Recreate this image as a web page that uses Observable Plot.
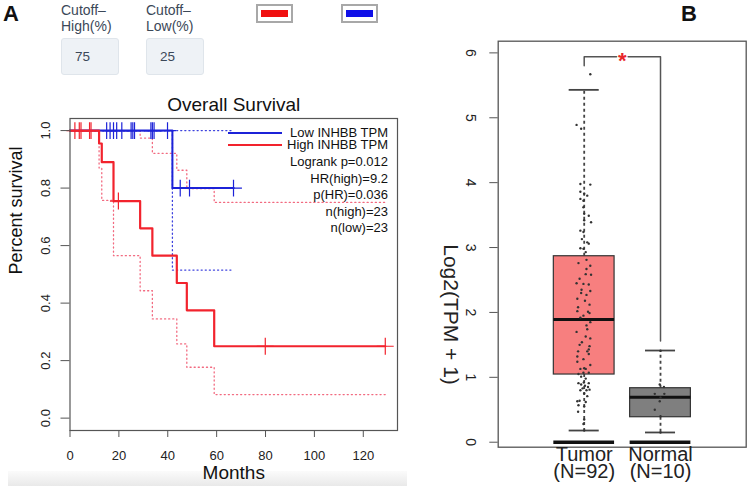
<!DOCTYPE html>
<html><head><meta charset="utf-8">
<script src="https://cdn.jsdelivr.net/npm/d3@7"></script>
<script src="https://cdn.jsdelivr.net/npm/@observablehq/plot@0.6"></script>
<style>
body{margin:0;background:#fff;}
#root{position:relative;width:750px;height:497px;overflow:hidden;font-family:"Liberation Sans",Arial,sans-serif;background:#fff;}
.abs{position:absolute;}
.panel{position:absolute;font-size:22px;font-weight:bold;color:#111;}
.ctl{position:absolute;font-size:14px;line-height:16px;color:#3b4858;}
.box{position:absolute;background:#eef2f6;border:1px solid #dfe5eb;border-radius:3px;font-size:13.5px;color:#3b4858;box-sizing:border-box;padding-left:13px;line-height:35px;}
.sw{position:absolute;border:2px solid #a8a8a8;background:#fff;box-sizing:border-box;}
.sw div{position:absolute;left:3px;top:4px;right:3px;bottom:4px;}
.leg{position:absolute;font-size:13px;color:#111;white-space:nowrap;text-align:right;}
.legline{position:absolute;height:2px;}
#plotA,#plotB{position:absolute;top:0;}
#plotA{left:0;} #plotB{left:430px;}
</style></head><body><div id="root">
<div class="abs" style="left:8px;top:471px;width:399px;height:15px;background:linear-gradient(#fbfbfb,#e9e9e9);"></div>
<div id="plotA"></div><div id="plotB"></div>
<div class="panel" style="left:3px;top:1px;">A</div>
<div class="panel" style="left:681px;top:1px;">B</div>
<div class="ctl" style="left:61px;top:2px;">Cutoff–<br>High(%)</div>
<div class="ctl" style="left:146px;top:2px;">Cutoff–<br>Low(%)</div>
<div class="box" id="boxHigh" style="left:61px;top:38px;width:58px;height:37px;"></div>
<div class="box" id="boxLow" style="left:146px;top:38px;width:58px;height:37px;"></div>
<div class="sw" style="left:256px;top:4px;width:37px;height:19px;"><div id="swHigh"></div></div>
<div class="sw" style="left:341px;top:4px;width:37px;height:19px;"><div id="swLow"></div></div>
<div class="legline" id="llLow" style="left:228px;top:132px;width:54px;"></div>
<div class="legline" id="llHigh" style="left:228px;top:144px;width:54px;"></div>
<div class="leg" id="legText0" style="right:362px;top:127px;line-height:12px;"></div>
<div class="leg" id="legText1" style="right:362px;top:139px;line-height:12px;"></div>
<div class="leg" id="statText" style="right:362px;top:154px;line-height:16.5px;"></div>
</div>
<script>
// ---------- Panel A data (Kaplan-Meier, months vs survival) ----------
const cutoffHigh = 75;
const cutoffLow = 25;
const colorHigh = "#f2232d";
const colorLow = "#1c22d8";
const seriesNames = ["Low INHBB TPM", "High INHBB TPM"];
const statLines = ["Logrank p=0.012", "HR(high)=9.2", "p(HR)=0.036", "n(high)=23", "n(low)=23"];
const monthTicks = [0, 20, 40, 60, 80, 100, 120];
const survTicks = [0, 0.2, 0.4, 0.6, 0.8, 1.0];

const lowTime = [0, 41.9, 67];
const lowSurv = [1, 0.8, 0.8];
const highTime = [0, 11.9, 13, 17.8, 28.7, 33.7, 43.7, 47.8, 59, 129];
const highSurv = [1, 0.955, 0.89, 0.755, 0.66, 0.565, 0.47, 0.375, 0.25, 0.25];

const lowUpperTime = [0, 66.3];
const lowUpperSurv = [1, 1];
const lowLowerTime = [0, 41.9, 66.3];
const lowLowerSurv = [1, 0.515, 0.515];
const highUpperTime = [0, 28.7, 33.7, 43.7, 47.8, 59, 129];
const highUpperSurv = [1, 0.974, 0.921, 0.862, 0.798, 0.75, 0.75];
const highLowerTime = [0, 11.9, 13, 17.8, 28.7, 33.7, 43.7, 47.8, 59, 129];
const highLowerSurv = [1, 0.87, 0.757, 0.565, 0.443, 0.345, 0.258, 0.177, 0.082, 0.082];

const lowCensorTime = [15, 16.4, 17.8, 19.1, 21.2, 25, 25.7, 26.4, 33.1, 33.7, 34.4, 39.9, 45.1, 48.9, 66.9];
const lowCensorSurv = [1, 1, 1, 1, 1, 1, 1, 1, 1, 1, 1, 1, 0.8, 0.8, 0.8];
const highCensorTime = [2.0, 3.8, 4.5, 8.0, 8.6, 19.8, 79.9, 129];
const highCensorSurv = [1, 1, 1, 1, 1, 0.755, 0.25, 0.25];

// ---------- Panel B data (boxplot Log2(TPM+1)) ----------
const groups = ["Tumor", "Normal"];
const groupN = ["(N=92)", "(N=10)"];
const groupPos = [1, 2];
const groupFill = ["#f77f7f", "#7f7f7f"];
const q1 = [1.043, 0.385];
const median = [1.89, 0.693];
const q3 = [2.866, 0.832];
const whiskerLow = [0.18, 0.15];
const whiskerHigh = [5.43, 1.413];
const yTicksB = [0, 1, 2, 3, 4, 5, 6];
const sigLabel = "*";
const sigY = 5.94;
const bracketEnds = [5.8, 1.56];

const tumorValues = [5.67, 4.89, 4.83, 3.98, 3.97, 3.86, 3.83, 3.80, 3.75, 3.72, 3.62, 3.52, 3.49, 3.42, 3.39, 3.26, 3.24, 3.13, 3.08, 3.06, 2.99, 2.98, 2.93,
  2.81, 2.76, 2.72, 2.67, 2.59, 2.58, 2.52, 2.45, 2.44, 2.43, 2.35, 2.33, 2.30, 2.27, 2.21, 2.18, 2.12, 2.08, 2.02, 2.01, 1.99, 1.95, 1.92,
  1.85, 1.80, 1.74, 1.70, 1.63, 1.60, 1.54, 1.50, 1.48, 1.43, 1.40, 1.40, 1.36, 1.32, 1.28, 1.24, 1.19, 1.14, 1.13, 1.13, 1.07, 1.07, 1.05,
  1.01, 0.98, 0.92, 0.91, 0.91, 0.89, 0.87, 0.85, 0.83, 0.81, 0.80, 0.80, 0.75, 0.71, 0.64, 0.63, 0.62, 0.57, 0.55, 0.47, 0.35, 0.28, 0.18];
const tumorJitter = [0.08, -0.10, -0.04, -0.05, 0.08, -0.05, 0.00, 0.04, -0.05, -0.01, -0.01, 0.00, 0.06, 0.00, 0.09, -0.05, -0.01, -0.03, 0.04, 0.06, -0.05, -0.01, 0.02,
  0.03, -0.075, 0.08, 0.03, 0.02, 0.09, -0.06, -0.10, -0.01, 0.06, -0.035, 0.08, -0.04, 0.03, -0.09, 0.01, 0.07, -0.08, -0.09, 0.05, 0.07, -0.01, -0.05,
  0.08, 0.03, 0.04, -0.10, 0.02, 0.08, -0.03, -0.06, 0.07, 0.06, -0.08, 0.04, 0.06, -0.09, -0.01, -0.09, 0.08, 0.00, -0.05, 0.02, -0.01, 0.06, -0.075,
  -0.04, 0.02, -0.005, -0.075, 0.06, -0.04, 0.01, 0.05, -0.02, 0.07, -0.05, 0.03, 0.00, 0.04, -0.06, -0.09, 0.02, -0.075, 0.00, -0.08, 0.00, -0.01, 0.00];
const normalValues = [1.41, 0.89, 0.85, 0.745, 0.745, 0.69, 0.63, 0.50, 0.40, 0.15];
const normalJitter = [0, -0.01, 0.045, -0.075, 0.05, 0, -0.01, -0.075, 0, 0];

// ---------- HTML controls / legend ----------
document.getElementById("boxHigh").textContent = cutoffHigh;
document.getElementById("boxLow").textContent = cutoffLow;
document.getElementById("swHigh").style.background = "#f01010";
document.getElementById("swLow").style.background = "#1010e8";
document.getElementById("llLow").style.background = colorLow;
document.getElementById("llHigh").style.background = colorHigh;
document.getElementById("legText0").textContent = seriesNames[0];
document.getElementById("legText1").textContent = seriesNames[1];
document.getElementById("statText").innerHTML = statLines.join("<br>");

const font = '"Liberation Sans", Arial, sans-serif';
const zip = (xs, ys) => xs.map((x, i) => ({x, y: ys[i]}));

const dotted = {strokeDasharray: "1.1,3", strokeWidth: 1.3, curve: "step-after"};

const A = Plot.plot({
  width: 410, height: 497,
  marginLeft: 69.5, marginRight: 13, marginTop: 118, marginBottom: 67,
  x: {domain: [0, 134], axis: null},
  y: {domain: [-0.043, 1.042], axis: null},
  style: {fontFamily: font, fontSize: "13px", color: "#222", background: "transparent", overflow: "visible"},
  marks: [
    Plot.line(zip(lowUpperTime, lowUpperSurv), {x: "x", y: "y", stroke: colorLow, ...dotted, strokeOpacity: 0.85}),
    Plot.line(zip(lowLowerTime, lowLowerSurv), {x: "x", y: "y", stroke: colorLow, ...dotted, strokeOpacity: 0.85}),
    Plot.line(zip(highUpperTime, highUpperSurv), {x: "x", y: "y", stroke: "#f0506a", ...dotted, strokeOpacity: 0.85}),
    Plot.line(zip(highLowerTime, highLowerSurv), {x: "x", y: "y", stroke: "#f0506a", ...dotted, strokeOpacity: 0.85}),
    Plot.line(zip(lowTime, lowSurv), {x: "x", y: "y", stroke: colorLow, strokeWidth: 2, curve: "step-after"}),
    Plot.dot(zip(lowCensorTime, lowCensorSurv), {x: "x", y: "y", symbol: "plus", r: 5.5, stroke: colorLow, strokeWidth: 1.2}),
    Plot.line(zip(highTime, highSurv), {x: "x", y: "y", stroke: colorHigh, strokeWidth: 2.2, curve: "step-after"}),
    Plot.dot(zip(highCensorTime, highCensorSurv), {x: "x", y: "y", symbol: "plus", r: 5.5, stroke: colorHigh, strokeWidth: 1.2}),
    Plot.frame({stroke: "#555", strokeWidth: 1.2}),
    Plot.axisX({ticks: monthTicks, tickSize: 7, tickPadding: 13, stroke: "#555", label: null, fontSize: 13}),
    Plot.axisY({ticks: survTicks, tickSize: 9, tickPadding: 11, tickRotate: -90, tickFormat: d3.format(".1f"), stroke: "#555", label: null, fontSize: 13}),
    Plot.text(["Overall Survival"], {frameAnchor: "top", dy: -21, fontSize: 19, fill: "#111"}),
    Plot.text(["Months"], {frameAnchor: "bottom", dy: 48, fontSize: 19, fill: "#111"}),
    Plot.text(["Percent survival"], {frameAnchor: "left", dx: -54, rotate: -90, fontSize: 18, fill: "#111"})
  ]
});
document.getElementById("plotA").append(A);

const idx = [0, 1];
const hw = 0.398, cw = 0.197;
const B = Plot.plot({
  width: 320, height: 497,
  marginLeft: 67.7, marginRight: 4.3, marginTop: 40.7, marginBottom: 50.3,
  x: {domain: [-0.127, 3.123], axis: null},
  y: {domain: [-0.077, 6.18], axis: null},
  style: {fontFamily: font, fontSize: "13px", color: "#222", background: "transparent", overflow: "visible"},
  marks: [
    Plot.frame({stroke: "#555", strokeWidth: 1.3}),
    Plot.axisY({ticks: yTicksB, tickSize: 8.4, tickPadding: 14, tickRotate: 90, tickFormat: d3.format("d"), stroke: "#555", label: null, fontSize: 14}),
    Plot.text(["Log2(TPM + 1)"], {frameAnchor: "left", dx: -47.7, rotate: 90, fontSize: 21, fill: "#222"}),
    // bracket
    Plot.line([{x: groupPos[0], y: bracketEnds[0]}, {x: groupPos[0], y: sigY}, {x: 1.424, y: sigY}], {x: "x", y: "y", stroke: "#555", strokeWidth: 1.5}),
    Plot.line([{x: 1.576, y: sigY}, {x: groupPos[1], y: sigY}, {x: groupPos[1], y: bracketEnds[1]}], {x: "x", y: "y", stroke: "#555", strokeWidth: 1.5}),
    Plot.text([sigLabel], {x: (groupPos[0] + groupPos[1]) / 2, y: sigY, dy: 4, fill: "#e8262c", fontSize: 22, fontWeight: "bold"}),
    // whiskers
    Plot.ruleX(idx, {x: i => groupPos[i], y1: i => q3[i], y2: i => whiskerHigh[i], stroke: "#444", strokeWidth: 1.8, strokeDasharray: "3,3"}),
    Plot.ruleX(idx, {x: i => groupPos[i], y1: i => q1[i], y2: i => whiskerLow[i], stroke: "#444", strokeWidth: 1.8, strokeDasharray: "3,3"}),
    Plot.ruleY(idx, {y: i => whiskerHigh[i], x1: i => groupPos[i] - cw, x2: i => groupPos[i] + cw, stroke: "#444", strokeWidth: 1.8}),
    Plot.ruleY(idx, {y: i => whiskerLow[i], x1: i => groupPos[i] - cw, x2: i => groupPos[i] + cw, stroke: "#444", strokeWidth: 1.8}),
    Plot.ruleY(idx, {y: 0, x1: i => groupPos[i] - hw, x2: i => groupPos[i] + hw, stroke: "#111", strokeWidth: 3.5}),
    Plot.rect(idx, {x1: i => groupPos[i] - hw, x2: i => groupPos[i] + hw, y1: i => q1[i], y2: i => q3[i], fill: i => groupFill[i], stroke: "#333", strokeWidth: 1.2}),
    Plot.ruleY(idx, {y: i => median[i], x1: i => groupPos[i] - hw, x2: i => groupPos[i] + hw, stroke: "#111", strokeWidth: 3}),
    Plot.dot(tumorValues, {x: (d, i) => groupPos[0] + tumorJitter[i], y: d => d, r: 1.2, fill: "#333", stroke: "none"}),
    Plot.dot(normalValues, {x: (d, i) => groupPos[1] + normalJitter[i], y: d => d, r: 1.2, fill: "#333", stroke: "none"}),
    Plot.text(groups, {x: (d, i) => groupPos[i], frameAnchor: "bottom", dy: 13.5, fontSize: 20, fill: "#222"}),
    Plot.text(groupN, {x: (d, i) => groupPos[i], frameAnchor: "bottom", dy: 30.5, fontSize: 20, fill: "#222"})
  ]
});
document.getElementById("plotB").append(B);
</script>
</body></html>
